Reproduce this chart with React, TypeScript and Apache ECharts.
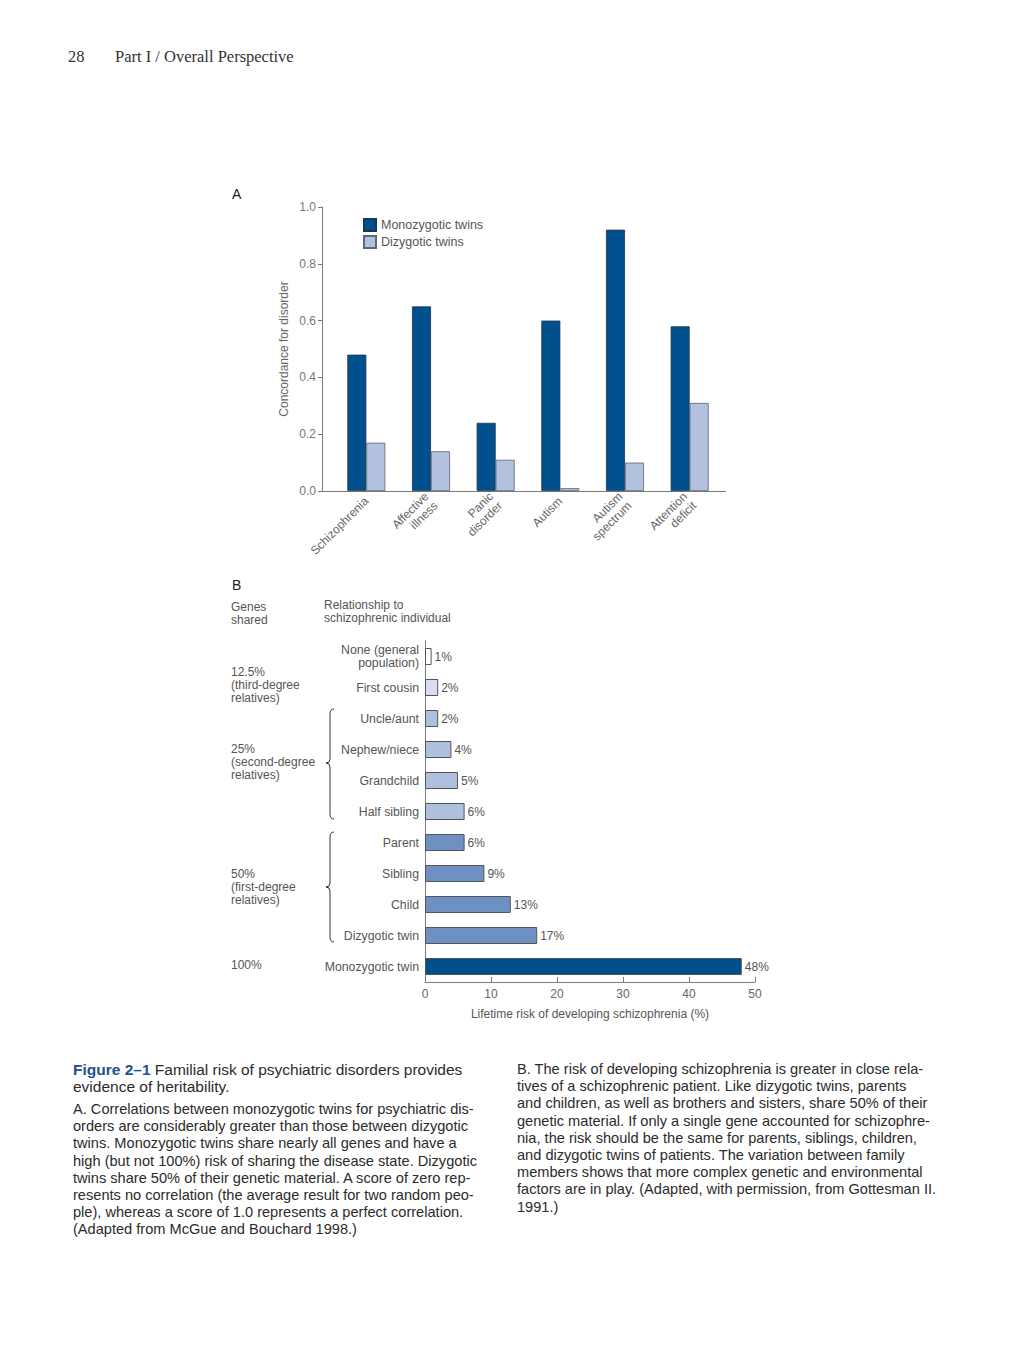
import React, { useEffect, useRef } from "react";
import * as echarts from "echarts";

const disorders = ["Schizophrenia", "Affective\nillness", "Panic\ndisorder", "Autism", "Autism\nspectrum", "Attention\ndeficit"];
const monozygotic = [0.48, 0.65, 0.24, 0.6, 0.92, 0.58];
const dizygotic = [0.17, 0.14, 0.11, 0.01, 0.1, 0.31];
const concordanceTicks = [0, 0.2, 0.4, 0.6, 0.8, 1.0];

const relationships = [
  "None (general\npopulation)",
  "First cousin",
  "Uncle/aunt",
  "Nephew/niece",
  "Grandchild",
  "Half sibling",
  "Parent",
  "Sibling",
  "Child",
  "Dizygotic twin",
  "Monozygotic twin",
];
const lifetimeRisk = [1, 2, 2, 4, 5, 6, 6, 9, 13, 17, 48];
const riskColors = ["#ffffff", "#d6dfee", "#afc0df", "#afc0df", "#afc0df", "#afc0df", "#6f90c3", "#6f90c3", "#6f90c3", "#6f90c3", "#014f8d"];

const geneGroups = ["12.5%\n(third-degree\nrelatives)", "25%\n(second-degree\nrelatives)", "50%\n(first-degree\nrelatives)", "100%"];

const FONT = "'Liberation Sans', Arial, sans-serif";

function bracePath(y0: number, y1: number, m: number) {
  return `M 334 ${y0} Q 330 ${y0} 330 ${y0 + 5} L 330 ${m - 4} Q 330 ${m} 326 ${m} Q 330 ${m} 330 ${m + 4} L 330 ${y1 - 5} Q 330 ${y1} 334 ${y1}`;
}

export default function App() {
  const ref = useRef<HTMLDivElement>(null);
  useEffect(() => {
    if (!ref.current) return;
    echarts.graphic.registerShape("brace1", echarts.graphic.extendPath(bracePath(709, 819, 763), {}));
    echarts.graphic.registerShape("brace2", echarts.graphic.extendPath(bracePath(832, 942, 887), {}));
    const chart = echarts.init(ref.current, null, { renderer: "svg" });
    const axisColor = "#7a7a7a";
    const option: any = {
      animation: false,
      textStyle: { fontFamily: FONT },
      legend: {
        data: ["Monozygotic twins", "Dizygotic twins"],
        orient: "vertical",
        left: 358,
        top: 213,
        itemWidth: 12,
        itemHeight: 12,
        itemGap: 3,
        icon: "rect",
        textStyle: { fontSize: 12.5, color: "#555", fontFamily: FONT },
      },
      grid: [
        { left: 334, top: 207, width: 388, height: 284 },
        { left: 425, top: 641, width: 330, height: 341 },
      ],
      xAxis: [
        {
          gridIndex: 0,
          type: "category",
          data: disorders,
          axisLine: { show: false },
          axisTick: { show: false },
          axisLabel: { rotate: 45, interval: 0, fontSize: 12, color: "#666", margin: 8, lineHeight: 13 },
        },
        {
          gridIndex: 1,
          type: "value",
          min: 0,
          max: 50,
          interval: 10,
          axisLine: { show: true, lineStyle: { color: axisColor } },
          axisTick: { show: true, inside: true, length: 5, lineStyle: { color: axisColor } },
          splitLine: { show: false },
          axisLabel: { fontSize: 12, color: "#666", margin: 6 },
          name: "Lifetime risk of developing schizophrenia (%)",
          nameLocation: "middle",
          nameGap: 26,
          nameTextStyle: { fontSize: 12, color: "#555" },
        },
      ],
      yAxis: [
        {
          gridIndex: 0,
          type: "value",
          min: concordanceTicks[0],
          max: concordanceTicks[concordanceTicks.length - 1],
          interval: 0.2,
          offset: 12,
          axisLine: { show: true, lineStyle: { color: axisColor } },
          axisTick: { show: true, length: 4, lineStyle: { color: axisColor } },
          splitLine: { show: false },
          axisLabel: { formatter: (v: number) => v.toFixed(1), fontSize: 12, color: "#777", margin: 6 },
          name: "Concordance for disorder",
          nameLocation: "middle",
          nameRotate: 90,
          nameGap: 32,
          nameTextStyle: { fontSize: 12, color: "#666" },
        },
        {
          gridIndex: 1,
          type: "category",
          inverse: true,
          data: relationships,
          axisLine: { show: true, lineStyle: { color: axisColor } },
          axisTick: { show: false },
          axisLabel: { fontSize: 12.3, color: "#555", margin: 6, lineHeight: 13 },
        },
      ],
      series: [
        {
          name: "Monozygotic twins",
          type: "bar",
          xAxisIndex: 0,
          yAxisIndex: 0,
          data: monozygotic,
          barWidth: 19,
          barGap: "0%",
          itemStyle: { color: "#00508e", borderColor: "#1d3552", borderWidth: 0.8 },
        },
        {
          name: "Dizygotic twins",
          type: "bar",
          xAxisIndex: 0,
          yAxisIndex: 0,
          data: dizygotic,
          barWidth: 19,
          barGap: "0%",
          itemStyle: { color: "#b1c1de", borderColor: "#5d6673", borderWidth: 0.8 },
        },
        {
          name: "Lifetime risk",
          type: "bar",
          xAxisIndex: 1,
          yAxisIndex: 1,
          data: lifetimeRisk.map((v, i) => ({ value: v, itemStyle: { color: riskColors[i] } })),
          barWidth: 17,
          itemStyle: { borderColor: "#555", borderWidth: 1 },
          label: { show: true, position: "right", distance: 3, formatter: "{c}%", fontSize: 12, color: "#555" },
        },
      ],
      graphic: [
        { type: "line", shape: { x1: 322, y1: 491.5, x2: 726, y2: 491.5 }, style: { stroke: axisColor, lineWidth: 1 } },
        { type: "text", left: 232, top: 187, style: { text: "A", fontSize: 14, fill: "#222", fontFamily: FONT } },
        { type: "text", left: 232, top: 578, style: { text: "B", fontSize: 14, fill: "#222", fontFamily: FONT } },
        { type: "text", left: 231, top: 600, style: { text: "Genes\nshared", fontSize: 12, lineHeight: 13, fill: "#555", fontFamily: FONT } },
        { type: "text", left: 324, top: 598, style: { text: "Relationship to\nschizophrenic individual", fontSize: 12, lineHeight: 13, fill: "#555", fontFamily: FONT } },
        { type: "text", left: 231, top: 665, style: { text: geneGroups[0], fontSize: 12, lineHeight: 13, fill: "#555", fontFamily: FONT } },
        { type: "text", left: 231, top: 742, style: { text: geneGroups[1], fontSize: 12, lineHeight: 13, fill: "#555", fontFamily: FONT } },
        { type: "text", left: 231, top: 867, style: { text: geneGroups[2], fontSize: 12, lineHeight: 13, fill: "#555", fontFamily: FONT } },
        { type: "text", left: 231, top: 958, style: { text: geneGroups[3], fontSize: 12, lineHeight: 13, fill: "#555", fontFamily: FONT } },
        { type: "brace1", x: 0, y: 0, style: { stroke: "#333", fill: "none", lineWidth: 1 } },
        { type: "brace2", x: 0, y: 0, style: { stroke: "#333", fill: "none", lineWidth: 1 } },
      ],
    };
    chart.setOption(option);
    return () => chart.dispose();
  }, []);

  const capStyle: React.CSSProperties = {
    position: "absolute",
    fontFamily: FONT,
    fontSize: 14.6,
    lineHeight: "17.2px",
    color: "#2b2b2b",
    whiteSpace: "nowrap",
    margin: 0,
  };
  const headStyle: React.CSSProperties = {
    position: "absolute",
    top: 47,
    fontFamily: "'Liberation Serif', serif",
    fontSize: 16.5,
    color: "#333",
    whiteSpace: "nowrap",
  };

  return (
    <div style={{ position: "absolute", left: 0, top: 0, width: 1022, height: 1346, background: "#fff" }}>
      <div ref={ref} style={{ position: "absolute", left: 0, top: 0, width: 1022, height: 1346 }} />
      <div style={{ ...headStyle, left: 68 }}>28</div>
      <div style={{ ...headStyle, left: 115 }}>Part I / Overall Perspective</div>
      <div style={{ ...capStyle, fontSize: 15.5, left: 73, top: 1061 }}>
        <span style={{ color: "#1f4f8f", fontWeight: "bold" }}>Figure 2–1</span> Familial risk of psychiatric disorders provides
        <br />
        evidence of heritability.
      </div>
      <div style={{ ...capStyle, left: 73, top: 1101 }}>
        A. Correlations between monozygotic twins for psychiatric dis-
        <br />
        orders are considerably greater than those between dizygotic
        <br />
        twins. Monozygotic twins share nearly all genes and have a
        <br />
        high (but not 100%) risk of sharing the disease state. Dizygotic
        <br />
        twins share 50% of their genetic material. A score of zero rep-
        <br />
        resents no correlation (the average result for two random peo-
        <br />
        ple), whereas a score of 1.0 represents a perfect correlation.
        <br />
        (Adapted from McGue and Bouchard 1998.)
      </div>
      <div style={{ ...capStyle, left: 517, top: 1061 }}>
        B. The risk of developing schizophrenia is greater in close rela-
        <br />
        tives of a schizophrenic patient. Like dizygotic twins, parents
        <br />
        and children, as well as brothers and sisters, share 50% of their
        <br />
        genetic material. If only a single gene accounted for schizophre-
        <br />
        nia, the risk should be the same for parents, siblings, children,
        <br />
        and dizygotic twins of patients. The variation between family
        <br />
        members shows that more complex genetic and environmental
        <br />
        factors are in play. (Adapted, with permission, from Gottesman II.
        <br />
        1991.)
      </div>
    </div>
  );
}
